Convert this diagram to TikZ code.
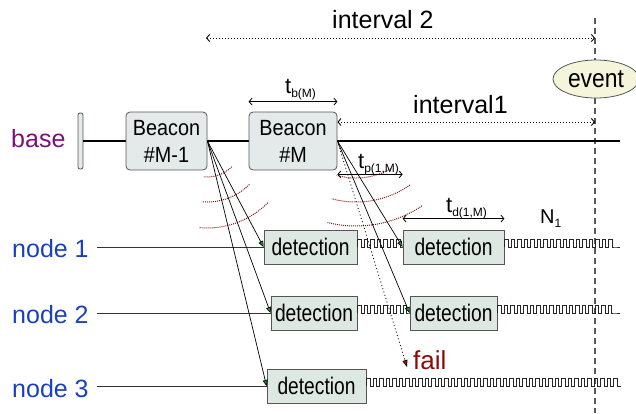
\documentclass[tikz,border=0pt]{standalone}
\usepackage{fontspec}
\setmainfont{Liberation Sans}
\usetikzlibrary{arrows.meta,shapes.geometric}
\definecolor{boxfill}{RGB}{228,233,233}
\definecolor{detfill}{RGB}{222,232,226}
\definecolor{edgegray}{RGB}{85,85,85}
\definecolor{basecol}{RGB}{125,15,125}
\definecolor{nodecol}{RGB}{25,65,190}
\definecolor{wavecol}{RGB}{130,25,25}
\definecolor{failcol}{RGB}{140,10,10}
\definecolor{evfill}{RGB}{245,245,220}
\definecolor{tipgreen}{RGB}{30,160,40}
\newcommand{\fs}[1]{\fontsize{#1}{#1}\selectfont}
\newcommand{\tsub}[2]{\fs{22}#1\raisebox{-4pt}{\fs{12}#2}}
\begin{document}
\begin{tikzpicture}[x=1pt,y=-1pt,
  beaconbox/.style={draw=edgegray, fill=boxfill, rounded corners=4pt, line width=0.8pt, minimum height=58pt, inner sep=0pt, align=center, font=\fontsize{22}{27}\selectfont},
  detbox/.style={draw=edgegray, fill=detfill, line width=0.8pt, minimum height=34pt, inner sep=0pt, font=\fs{24}},
  lab/.style={inner sep=0pt},
  nodeline/.style={draw=black!80, line width=0.8pt},
  sig/.style={draw=black, line width=0.7pt, -{Triangle[length=6pt,width=5pt,fill=tipgreen]}},
  failsig/.style={draw=black, line width=0.8pt, dash pattern=on 1pt off 2.5pt, -{Triangle[length=7pt,width=5pt,fill=red]}},
  wave/.style={draw=black!85, line width=0.8pt},
  ripple/.style={draw=wavecol, line width=1pt, dash pattern=on 1pt off 1pt},
  dimarrow/.style={draw=black, line width=0.8pt, {Straight Barb[length=3pt,width=7pt]}-{Straight Barb[length=3pt,width=7pt]}},
  intarrow/.style={draw=black, line width=0.9pt, dash pattern=on 1pt off 2pt, {Straight Barb[length=3pt,width=7pt]}-{Straight Barb[length=3pt,width=7pt]}},
]
\useasboundingbox (0,0) rectangle (636,413);
% vertical event line
\coordinate (vtop) at (595,18);
\coordinate (vbot) at (595,413);
\draw[draw=black!65, line width=1.2pt, dash pattern=on 6pt off 4pt] (vtop) -- (vbot);
% base line
\node[draw=edgegray, fill=boxfill, rounded corners=2pt, minimum width=5pt, minimum height=56pt, inner sep=0pt, line width=0.8pt] (bprev) at (80.5,141) {};
\coordinate (br) at (620,141);
\draw[line width=1.3pt] (bprev.east) -- (br);
% beacons
\node[beaconbox, minimum width=81pt] (bm1) at (166.5,141) {\scalebox{0.9}[1]{Beacon}\\\scalebox{0.9}[1]{\#M-1}};
\node[beaconbox, minimum width=88pt] (bm) at (293,141) {\scalebox{0.9}[1]{Beacon}\\\scalebox{0.9}[1]{\#M}};
% labels
\node[lab, anchor=base west, text=basecol, font=\fs{25}] (baselab) at (11,147) {base};
\node[lab, anchor=base west, text=nodecol, font=\fs{25}] (n1) at (12,257) {node 1};
\node[lab, anchor=base west, text=nodecol, font=\fs{25}] (n2) at (12,323) {node 2};
\node[lab, anchor=base west, text=nodecol, font=\fs{25}] (n3) at (12,397) {node 3};
% detection boxes
\node[detbox, minimum width=93pt] (d11) at (310.5,247) {\scalebox{0.8}[1]{detection}};
\node[detbox, minimum width=101pt] (d12) at (453.5,247) {\scalebox{0.8}[1]{detection}};
\node[detbox, minimum width=86pt] (d21) at (314,313) {\scalebox{0.8}[1]{detection}};
\node[detbox, minimum width=87pt] (d22) at (453.5,313) {\scalebox{0.8}[1]{detection}};
\node[detbox, minimum width=99pt] (d3) at (316.5,386) {\scalebox{0.8}[1]{detection}};
% node lines
\coordinate (n1s) at (97,247);
\coordinate (n2s) at (97,313);
\coordinate (n3s) at (97,386);
\draw[nodeline] (n1s) -- (d11.west);
\draw[nodeline] (n2s) -- (d21.west);
\draw[nodeline] (n3s) -- (d3.west);
% square waves
\coordinate (w1e) at (620,247);
\coordinate (w2e) at (620,313);
\coordinate (w3e) at (620,386);
\draw[wave] (d11.east) \foreach \i in {1,...,7} { -- ++(0,-8) -- ++(3.5,0) -- ++(0,8) -- ++(3,0) } -- (d12.west);
\draw[wave] (d12.east) \foreach \i in {1,...,17} { -- ++(0,-8) -- ++(3.5,0) -- ++(0,8) -- ++(3,0) } -- (w1e);
\draw[wave] (d21.east) \foreach \i in {1,...,8} { -- ++(0,-8) -- ++(3.5,0) -- ++(0,8) -- ++(3,0) } -- (d22.west);
\draw[wave] (d22.east) \foreach \i in {1,...,18} { -- ++(0,-8) -- ++(3.5,0) -- ++(0,8) -- ++(3,0) } -- (w2e);
\draw[wave] (d3.east) \foreach \i in {1,...,39} { -- ++(0,-8) -- ++(3.5,0) -- ++(0,8) -- ++(3,0) } -- (w3e);
% ripples
\foreach \r in {35,60,86} {
  \draw[ripple] plot[domain=45:95, samples=30, variable=\a] ({207+\r*cos(\a)},{142+\r*sin(\a)});
}
\draw[ripple] plot[domain=60:106, samples=30, variable=\a] ({356+70*cos(\a)},{108+70*sin(\a)});
\draw[ripple] plot[domain=55:105, samples=30, variable=\a] ({356+94*cos(\a)},{108+94*sin(\a)});
\draw[ripple] plot[domain=56:104, samples=30, variable=\a] ({356+118*cos(\a)},{108+118*sin(\a)});
% signals
\draw[sig] (bm1.east) -- (d11.west);
\draw[sig] (bm1.east) -- (d21.west);
\draw[sig] (bm1.east) -- (d3.west);
\draw[sig] (bm.east) -- (d12.west);
\draw[sig] (bm.east) -- (d22.west);
\coordinate (failtip) at (407,367);
\draw[failsig] (bm.east) -- (failtip);
\node[lab, anchor=base west, text=failcol, font=\fs{26}] (fail) at (413,369) {fail};
% dimension arrows
\draw[dimarrow] ([yshift=10pt]bm.north west) -- ([yshift=10pt]bm.north east);
\node[lab, anchor=base west] (tb) at (285,93) {\tsub{t}{b(M)}};
\draw[dimarrow] ([yshift=-4pt]bm.south east) -- ([yshift=-4pt]bm.south east -| d12.west);
\node[lab, anchor=base west] (tp) at (358,168) {\tsub{t}{p(1,M)}};
\draw[dimarrow] ([yshift=11pt]d12.north west) -- ([yshift=11pt]d12.north east);
\node[lab, anchor=base west] (td) at (446,212) {\tsub{t}{d(1,M)}};
\node[lab, anchor=base west] (nn) at (540,223) {\fs{20}N\raisebox{-4pt}{\fs{12}1}};
% intervals
\coordinate (i2l) at (206,38);
\draw[intarrow] (i2l) -- (i2l -| vtop);
\node[lab, anchor=base west, font=\fs{25}] (int2) at (332,28) {interval 2};
\draw[intarrow] ([yshift=19pt]bm.east) -- ([yshift=19pt]bm.east -| vtop);
\node[lab, anchor=base west, font=\fs{25}] (int1) at (413,113) {interval1};
% event
\node[ellipse, draw=edgegray, fill=evfill, line width=0.8pt, minimum width=86pt, minimum height=38pt, inner sep=0pt, font=\fs{26}] (ev) at (596,79) {\scalebox{0.88}[1]{event}};
\end{tikzpicture}
\end{document}
